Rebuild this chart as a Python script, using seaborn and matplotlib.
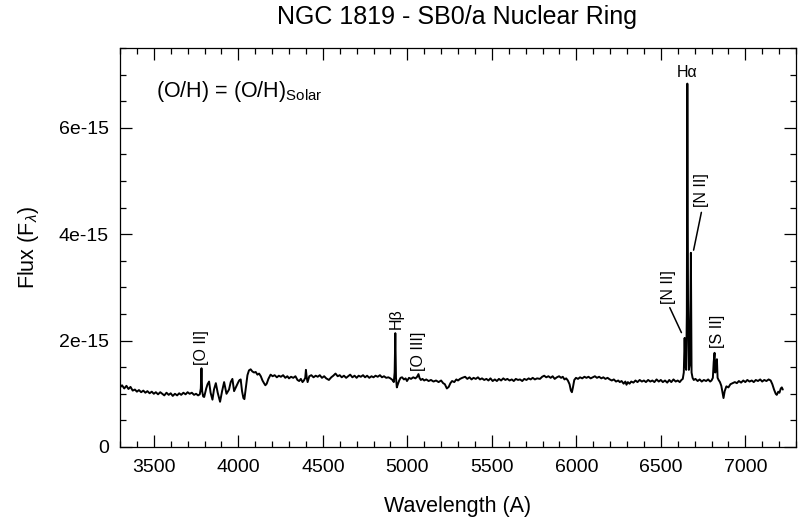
import matplotlib
matplotlib.use("Agg")
import matplotlib.pyplot as plt
import seaborn as sns
import numpy as np
from matplotlib.ticker import MultipleLocator, FixedLocator, FixedFormatter

# Observed wavelength (Angstrom) and flux (units of 1e-15) of the nuclear ring spectrum
wavelength = [
    3300, 3312, 3325, 3338, 3350, 3362, 3375, 3388, 3400, 3412, 3425, 3438, 3450, 3462, 3475, 3488,
    3500, 3512, 3525, 3538, 3550, 3562, 3575, 3588, 3600, 3612, 3625, 3638, 3650, 3662, 3675, 3688,
    3700, 3712, 3725, 3738, 3750, 3762, 3772, 3778, 3782, 3786, 3792, 3798, 3810, 3818, 3827, 3836,
    3847, 3856, 3867, 3878, 3892, 3904, 3916, 3930, 3945, 3955, 3965, 3975, 3985, 3997, 4005, 4014,
    4022, 4030, 4036, 4044, 4054, 4063, 4073, 4083, 4093, 4103, 4113, 4123, 4133, 4143, 4152, 4160,
    4168, 4178, 4191, 4203, 4215, 4228, 4240, 4252, 4265, 4278, 4290, 4300, 4312, 4325, 4338, 4350,
    4360, 4370, 4380, 4388, 4396, 4400, 4405, 4410, 4420, 4432, 4445, 4458, 4470, 4482, 4495, 4508,
    4520, 4536, 4550, 4562, 4575, 4588, 4600, 4612, 4625, 4638, 4650, 4662, 4675, 4688, 4700, 4712,
    4725, 4738, 4750, 4762, 4775, 4788, 4800, 4812, 4825, 4838, 4850, 4862, 4875, 4888, 4900, 4912,
    4920, 4925, 4929, 4933, 4938, 4943, 4952, 4960, 4969, 4980, 4990, 4998, 5010, 5022, 5035, 5048,
    5058, 5066, 5072, 5080, 5090, 5100, 5112, 5126, 5140, 5155, 5170, 5185, 5200, 5212, 5222, 5234,
    5245, 5255, 5265, 5278, 5290, 5300, 5312, 5325, 5342, 5355, 5368, 5380, 5392, 5405, 5418, 5430,
    5442, 5455, 5468, 5480, 5492, 5505, 5518, 5530, 5542, 5555, 5568, 5580, 5592, 5605, 5618, 5630,
    5642, 5655, 5667, 5680, 5692, 5705, 5718, 5730, 5742, 5755, 5768, 5785, 5798, 5810, 5822, 5835,
    5848, 5860, 5872, 5885, 5898, 5910, 5920, 5930, 5940, 5950, 5960, 5968, 5974, 5980, 5988, 5998,
    6010, 6022, 6035, 6048, 6060, 6072, 6085, 6098, 6110, 6122, 6135, 6148, 6160, 6172, 6185, 6198,
    6210, 6222, 6235, 6248, 6257, 6268, 6280, 6290, 6297, 6305, 6315, 6325, 6338, 6350, 6362, 6375,
    6388, 6400, 6412, 6425, 6438, 6450, 6462, 6475, 6488, 6500, 6512, 6525, 6538, 6550, 6562, 6575,
    6588, 6600, 6612, 6622, 6630, 6636, 6641, 6645, 6650, 6654, 6657, 6661, 6666, 6671, 6675, 6678,
    6682, 6688, 6695, 6705, 6718, 6730, 6742, 6755, 6768, 6780, 6792, 6800, 6808, 6813, 6818, 6822,
    6827, 6832, 6836, 6842, 6850, 6858, 6865, 6871, 6878, 6888, 6900, 6912, 6925, 6938, 6950, 6962,
    6975, 6988, 7000, 7012, 7025, 7038, 7050, 7062, 7075, 7088, 7100, 7112, 7125, 7138, 7150, 7160,
    7170, 7180, 7186, 7195, 7202, 7210, 7216, 7222,
]
flux_e15 = [
    1.12, 1.16, 1.10, 1.15, 1.09, 1.13, 1.06, 1.08, 1.04, 1.07, 1.03, 1.06, 1.02, 1.05, 1.01, 1.04,
    1.00, 1.03, 0.99, 1.03, 1.00, 0.97, 1.02, 0.98, 1.01, 0.96, 1.00, 0.97, 1.01, 0.98, 1.02, 0.99,
    1.03, 1.00, 1.02, 0.98, 1.00, 0.97, 0.99, 1.10, 1.48, 1.05, 0.95, 0.94, 1.10, 1.18, 1.23, 1.02,
    0.89, 1.08, 1.20, 1.02, 0.85, 1.05, 1.22, 1.00, 1.08, 1.22, 1.28, 1.05, 1.12, 1.20, 1.25, 1.27,
    1.05, 0.92, 0.90, 1.10, 1.35, 1.44, 1.46, 1.42, 1.40, 1.41, 1.36, 1.38, 1.33, 1.25, 1.20, 1.16,
    1.19, 1.28, 1.36, 1.33, 1.35, 1.31, 1.34, 1.32, 1.35, 1.30, 1.33, 1.29, 1.32, 1.30, 1.33, 1.26,
    1.24, 1.28, 1.22, 1.25, 1.30, 1.45, 1.30, 1.22, 1.33, 1.35, 1.31, 1.34, 1.32, 1.35, 1.30, 1.33,
    1.29, 1.26, 1.31, 1.34, 1.38, 1.33, 1.35, 1.31, 1.34, 1.30, 1.33, 1.36, 1.31, 1.34, 1.30, 1.34,
    1.32, 1.35, 1.31, 1.34, 1.30, 1.33, 1.31, 1.34, 1.32, 1.35, 1.31, 1.33, 1.30, 1.31, 1.29, 1.26,
    1.22, 1.40, 2.14, 1.30, 1.12, 1.17, 1.25, 1.30, 1.31, 1.27, 1.29, 1.24, 1.30, 1.28, 1.31, 1.29,
    1.32, 1.37, 1.30, 1.26, 1.28, 1.25, 1.27, 1.24, 1.26, 1.23, 1.25, 1.22, 1.25, 1.20, 1.18, 1.10,
    1.13, 1.20, 1.24, 1.22, 1.27, 1.25, 1.28, 1.30, 1.32, 1.28, 1.31, 1.27, 1.30, 1.28, 1.31, 1.27,
    1.29, 1.26, 1.28, 1.25, 1.29, 1.24, 1.27, 1.24, 1.28, 1.25, 1.29, 1.26, 1.28, 1.25, 1.27, 1.24,
    1.28, 1.26, 1.27, 1.24, 1.28, 1.26, 1.29, 1.27, 1.30, 1.27, 1.29, 1.28, 1.32, 1.34, 1.31, 1.33,
    1.30, 1.33, 1.28, 1.31, 1.33, 1.30, 1.32, 1.27, 1.29, 1.25, 1.18, 1.06, 1.03, 1.12, 1.26, 1.30,
    1.28, 1.31, 1.29, 1.32, 1.30, 1.32, 1.29, 1.31, 1.33, 1.30, 1.32, 1.29, 1.31, 1.28, 1.30, 1.27,
    1.25, 1.27, 1.23, 1.25, 1.22, 1.24, 1.19, 1.23, 1.17, 1.22, 1.19, 1.23, 1.21, 1.25, 1.22, 1.26,
    1.23, 1.25, 1.22, 1.26, 1.23, 1.25, 1.22, 1.27, 1.23, 1.26, 1.22, 1.25, 1.21, 1.26, 1.22, 1.27,
    1.23, 1.25, 1.22, 1.26, 1.28, 1.40, 2.05, 1.55, 1.45, 2.50, 6.83, 2.80, 1.45, 1.55, 2.60, 3.65,
    1.40, 1.30, 1.26, 1.28, 1.24, 1.27, 1.23, 1.26, 1.24, 1.27, 1.23, 1.25, 1.30, 1.60, 1.77, 1.40,
    1.50, 1.65, 1.30, 1.26, 1.22, 1.15, 1.02, 0.92, 1.05, 1.14, 1.12, 1.18, 1.20, 1.22, 1.20, 1.24,
    1.21, 1.25, 1.22, 1.26, 1.23, 1.25, 1.22, 1.26, 1.24, 1.27, 1.23, 1.26, 1.24, 1.27, 1.25, 1.18,
    1.08, 1.00, 0.98, 1.04, 1.02, 1.10, 1.12, 1.08,
]

# Emission-line labels: text, position (Angstrom, flux 1e-15), rotation
line_labels = ["[O II]", "H\u03b2", "[O III]", "H\u03b1", "[N II]", "[N II]", "[S II]"]
label_wave = [3782, 4935, 5067, 6653, 6743, 6547, 6838]
label_flux = [1.55, 2.21, 1.42, 6.89, 4.51, 2.68, 1.87]
label_rot = [90, 90, 90, 0, 90, 90, 90]
# Leader lines for the [N II] doublet labels: (wave0, flux0, wave1, flux1)
leader_lines = [(6740, 4.41, 6694, 3.70), (6553, 2.62, 6622, 2.15)]

y_ticks = [0, 2, 4, 6]
y_tick_labels = ["0", "2e-15", "4e-15", "6e-15"]
x_ticks = [3500, 4000, 4500, 5000, 5500, 6000, 6500, 7000]

sns.set_theme(style="ticks")
plt.rcParams["font.family"] = ["Liberation Sans", "DejaVu Sans"]
plt.rcParams["mathtext.fontset"] = "custom"
plt.rcParams["mathtext.rm"] = "Liberation Sans"
plt.rcParams["mathtext.it"] = "Liberation Sans:italic"
plt.rcParams["mathtext.bf"] = "Liberation Sans:bold"
for key in ("text.color", "axes.labelcolor", "xtick.color", "ytick.color", "axes.edgecolor"):
    plt.rcParams[key] = "black"

fig = plt.figure(figsize=(7.98, 5.17), dpi=100)
ax = fig.add_axes([0.1504, 0.1354, 0.8471, 0.7718])

scale = 1e-15
flux = np.array(flux_e15) * scale
sns.lineplot(x=wavelength, y=flux, sort=False, estimator=None, color="black",
             linewidth=1.4, ax=ax)

ax.set_xlim(3300, 7300)
ax.set_ylim(0, 7.5 * scale)

ax.xaxis.set_major_locator(FixedLocator(x_ticks))
ax.xaxis.set_minor_locator(MultipleLocator(100))
ax.yaxis.set_major_locator(FixedLocator([v * scale for v in y_ticks]))
ax.yaxis.set_major_formatter(FixedFormatter(y_tick_labels))
ax.yaxis.set_minor_locator(MultipleLocator(0.5 * scale))

ax.tick_params(which="both", direction="in", top=True, right=True, color="black",
               width=0.9, labelsize=14, labelcolor="black")
ax.tick_params(which="major", length=8.5)
ax.tick_params(which="minor", length=4.5)
ax.tick_params(axis="x", which="major", pad=9)
ax.tick_params(axis="y", which="major", pad=8)
for s in ax.spines.values():
    s.set_linewidth(0.9)
    s.set_color("black")

ax.set_xlabel("Wavelength (A)", fontsize=15.5, labelpad=14)
ax.set_ylabel(r"Flux (F$_{\lambda}$)", fontsize=15.5, labelpad=13)
fig.text(0.573, 0.968, "NGC 1819 - SB0/a Nuclear Ring", fontsize=18, ha="center", va="center")

ax.text(3512, 6.58 * scale, r"(O/H) = (O/H)$_{\rm Solar}$", fontsize=15.5, ha="left",
        va="baseline")

for txt, wx, fy, rot in zip(line_labels, label_wave, label_flux, label_rot):
    ax.text(wx, fy * scale, txt, rotation=rot, fontsize=11.5, ha="center", va="bottom")
for w0, f0, w1, f1 in leader_lines:
    ax.plot([w0, w1], [f0 * scale, f1 * scale], color="black", linewidth=1.1)

fig.savefig("out.png", dpi=100)
